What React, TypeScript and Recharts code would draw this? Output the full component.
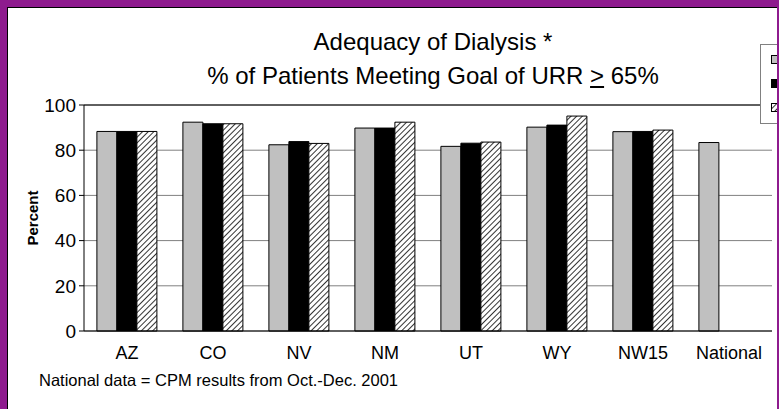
import React from "react";
import { BarChart, Bar, XAxis, YAxis, CartesianGrid, ReferenceLine } from "recharts";

const states = ["AZ", "CO", "NV", "NM", "UT", "WY", "NW15", "National"];
const series1 = [88.3, 92.4, 82.4, 89.8, 81.7, 90.2, 88.2, 83.4];
const series2 = [88.3, 91.7, 83.8, 89.8, 83.1, 91.1, 88.3, null];
const series3 = [88.3, 91.7, 83.0, 92.4, 83.6, 95.1, 88.9, null];
const yTicks = [0, 20, 40, 60, 80, 100];
const edgeTicks = [0, 1, 2, 3, 4, 5, 6, 7, 8];

const data = states.map((s, i) => ({ state: s, a: series1[i], b: series2[i], c: series3[i] }));

const FONT = "'Liberation Sans', Arial, sans-serif";

// legend is cut off by the frame in the original, only the swatches show
function LegendBox() {
  const swatches = ["#c0c0c0", "#000000", "url(#hatch)"];
  return (
    <div
      style={{
        position: "absolute",
        left: 759,
        top: 43,
        width: 90,
        height: 78,
        border: "1px solid #808080",
        background: "#fff",
      }}
    >
      {swatches.map((fill, i) => (
        <svg key={i} width={9} height={9} style={{ position: "absolute", left: 10, top: 10 + i * 24, overflow: "visible" }}>
          <rect x={0.5} y={0.5} width={8} height={8} fill={fill} stroke="#000" />
        </svg>
      ))}
    </div>
  );
}

export default function App() {
  return (
    <div style={{ position: "absolute", left: 0, top: 0, width: 779, height: 409, background: "#8e1b8e", overflow: "hidden" }}>
      <div
        style={{
          position: "absolute",
          left: 7,
          top: 7,
          width: 770,
          height: 402,
          background: "#fff",
          borderTop: "1px solid #000",
          borderLeft: "1px solid #000",
          boxSizing: "border-box",
          overflow: "hidden",
        }}
      >
        <div style={{ position: "absolute", left: -7, top: -7, width: 779, height: 409 }}>
          <svg width={0} height={0} style={{ position: "absolute" }}>
            <defs>
              <pattern id="hatch" patternUnits="userSpaceOnUse" width={4} height={4} patternTransform="rotate(45)">
                <rect width={4} height={4} fill="#fff" />
                <line x1={0} y1={0} x2={0} y2={4} stroke="#000" strokeWidth={1.6} />
              </pattern>
            </defs>
          </svg>
          <div style={{ position: "absolute", left: 0, top: 27, width: 864, textAlign: "center", fontFamily: FONT, fontSize: 24, lineHeight: "28px" }}>
            Adequacy of Dialysis *
          </div>
          <div style={{ position: "absolute", left: 0, top: 61, width: 864, textAlign: "center", fontFamily: FONT, fontSize: 24, lineHeight: "28px" }}>
            % of Patients Meeting Goal of URR <u>&gt;</u> 65%
          </div>
          <div
            style={{
              position: "absolute",
              left: 31,
              top: 217,
              transform: "translate(-50%, -50%) rotate(-90deg)",
              fontFamily: FONT,
              fontSize: 15,
              fontWeight: "bold",
            }}
          >
            Percent
          </div>
          <div style={{ position: "absolute", left: 38, top: 370, fontFamily: FONT, fontSize: 16.5 }}>
            National data = CPM results from Oct.-Dec. 2001
          </div>
          <BarChart
            width={779}
            height={409}
            data={data}
            margin={{ top: 104, right: 8, left: 43, bottom: 49 }}
            barCategoryGap="15%"
            barGap={0}
            style={{ position: "absolute", left: 0, top: 0, fontFamily: FONT }}
          >
            <CartesianGrid horizontal vertical={false} stroke="#808080" />
            <XAxis
              xAxisId="edges"
              type="number"
              dataKey="none"
              domain={[0, 8]}
              ticks={edgeTicks}
              tick={false}
              tickSize={6}
              tickLine={{ stroke: "#000" }}
              axisLine={false}
              height={1}
            />
            <XAxis
              dataKey="state"
              tickLine={false}
              axisLine={{ stroke: "#000" }}
              tick={{ fill: "#000", fontSize: 18 }}
              tickMargin={9}
              height={29}
              interval={0}
            />
            <YAxis
              domain={[0, 100]}
              ticks={yTicks}
              width={40}
              tickSize={5}
              tickMargin={3}
              tickLine={{ stroke: "#000" }}
              axisLine={{ stroke: "#000" }}
              tick={{ fill: "#000", fontSize: 19 }}
            />
            <YAxis yAxisId="r" orientation="right" width={0} domain={[0, 100]} tick={false} tickLine={false} axisLine={{ stroke: "#808080" }} />
            <ReferenceLine y={100} stroke="#000" />
            <Bar dataKey="a" name="Series 1" fill="#c0c0c0" stroke="#000" strokeWidth={1} isAnimationActive={false} />
            <Bar dataKey="b" name="Series 2" fill="#000" stroke="#000" strokeWidth={1} isAnimationActive={false} />
            <Bar dataKey="c" name="Series 3" fill="url(#hatch)" stroke="#000" strokeWidth={1} isAnimationActive={false} />
          </BarChart>
          <LegendBox />
        </div>
      </div>
    </div>
  );
}
